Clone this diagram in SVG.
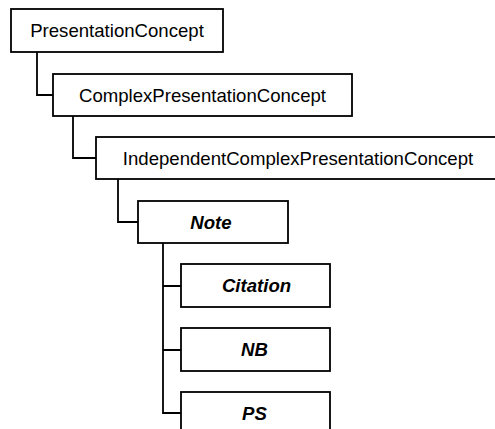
<svg xmlns="http://www.w3.org/2000/svg" width="495" height="429" viewBox="0 0 495 429">
  <style>
    .box { fill: #ffffff; stroke: #000000; stroke-width: 1.8; }
    .lbl { font-family: "Liberation Sans", Arial, Helvetica, sans-serif; font-size: 18.6px; fill: #000000; text-anchor: middle; }
    .abs { font-weight: bold; font-style: italic; }
    .conn { fill: none; stroke: #000000; stroke-width: 1.8; }
  </style>
  <rect width="495" height="429" fill="#ffffff"/>

  <!-- tree connectors -->
  <g id="connectors">
    <path class="conn" d="M37,52 V95 H53"/>
    <path class="conn" d="M73,116 V158 H96"/>
    <path class="conn" d="M118,179 V222 H138"/>
    <path class="conn" d="M163,243 V413 H181 M163,286 H181 M163,350 H181"/>
  </g>

  <g id="PresentationConcept">
    <rect class="box" x="11" y="9" width="212" height="43"/>
    <text class="lbl" x="117" y="37">PresentationConcept</text>
  </g>
  <g id="ComplexPresentationConcept">
    <rect class="box" x="53" y="74" width="299" height="42"/>
    <text class="lbl" x="202.5" y="101.5">ComplexPresentationConcept</text>
  </g>
  <g id="IndependentComplexPresentationConcept">
    <rect class="box" x="96" y="137" width="410" height="42"/>
    <text class="lbl" x="298" y="164.5">IndependentComplexPresentationConcept</text>
  </g>
  <g id="Note">
    <rect class="box" x="138" y="201" width="150" height="42"/>
    <text class="lbl abs" x="211" y="228.5">Note</text>
  </g>
  <g id="Citation">
    <rect class="box" x="181" y="264" width="149" height="43"/>
    <text class="lbl abs" x="256.5" y="292">Citation</text>
  </g>
  <g id="NB">
    <rect class="box" x="181" y="328" width="149" height="43"/>
    <text class="lbl abs" x="254.5" y="356">NB</text>
  </g>
  <g id="PS">
    <rect class="box" x="181" y="392" width="149" height="43"/>
    <text class="lbl abs" x="254.5" y="420">PS</text>
  </g>
</svg>
